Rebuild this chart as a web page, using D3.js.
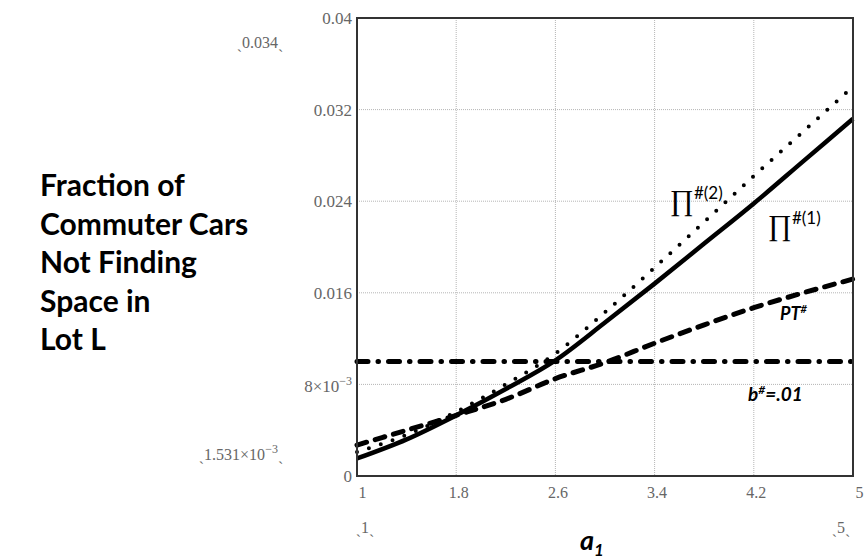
<!DOCTYPE html>
<html>
<head>
<meta charset="utf-8">
<script src="https://cdn.jsdelivr.net/npm/d3@7"></script>
<style>
  body { margin: 0; background: #fff; }
  svg { display: block; }
</style>
</head>
<body>
<svg id="chart" width="867" height="560"></svg>
<script>
// data
const a1 = [1, 1.4, 1.8, 2.2, 2.6, 3.0, 3.4, 3.8, 4.2, 4.6, 5];
const pi1 = [0.00153, 0.0032, 0.0053, 0.0076, 0.0101, 0.0134, 0.0168, 0.0203, 0.0238, 0.0275, 0.0312];
const pi2 = [0.0021, 0.0036, 0.0056, 0.0080, 0.0107, 0.0143, 0.0182, 0.0222, 0.0262, 0.0301, 0.0340];
const pt = [0.0027, 0.0040, 0.0053, 0.0067, 0.0085, 0.0099, 0.0116, 0.0132, 0.0147, 0.0160, 0.0172];
const bLevel = 0.01;
const xTicks = [1, 1.8, 2.6, 3.4, 4.2, 5];
const yTicks = [0, 0.008, 0.016, 0.024, 0.032, 0.04];
const titleLines = ["Fraction of", "Commuter Cars", "Not Finding", "Space in", "Lot L"];

const margin = { top: 18, right: 14, bottom: 84, left: 357 };
const width = 867 - margin.left - margin.right;
const height = 560 - margin.top - margin.bottom;

const svg = d3.select("#chart");
const g = svg.append("g").attr("transform", `translate(${margin.left}, ${margin.top})`);

const x = d3.scaleLinear().domain([1, 5]).range([0, width]);
const y = d3.scaleLinear().domain([0, 0.04]).range([height, 0]);

// grid
g.append("g").selectAll("line")
    .data(xTicks.slice(1, -1))
    .join("line")
    .attr("x1", d => x(d)).attr("x2", d => x(d))
    .attr("y1", 0).attr("y2", height)
    .attr("stroke", "#b5b5b5").attr("stroke-width", 1).attr("stroke-dasharray", "1,1");
g.append("g").selectAll("line")
    .data(yTicks.slice(1, -1))
    .join("line")
    .attr("x1", 0).attr("x2", width)
    .attr("y1", d => y(d)).attr("y2", d => y(d))
    .attr("stroke", "#b5b5b5").attr("stroke-width", 1).attr("stroke-dasharray", "1,1");

// axes labels
const tickColor = "#666";
const serif = "Liberation Serif, serif";
const xAxis = g.append("g").attr("transform", `translate(0, ${height})`)
    .call(d3.axisBottom(x).tickValues(xTicks).tickSize(0).tickPadding(11).tickFormat(d3.format("")));
xAxis.select(".domain").remove();
xAxis.selectAll("text")
    .attr("fill", tickColor)
    .attr("text-anchor", (d, i) => (i === 0 || i === xTicks.length - 1) ? "start" : "middle")
    .attr("dx", (d, i) => i === 0 ? 1 : 2)
    .style("font-family", serif).style("font-size", "16px");

const yAxis = g.append("g")
    .call(d3.axisLeft(y).tickValues(yTicks).tickSize(0).tickPadding(5)
        .tickFormat(d => d === 0.008 ? "" : (d === 0 ? "0" : d3.format("")(+d.toFixed(3)))));
yAxis.select(".domain").remove();
yAxis.selectAll("text")
    .attr("fill", tickColor)
    .style("font-family", serif).style("font-size", "17px");
// the 8x10^-3 label
const t8 = g.append("text")
    .attr("x", -5).attr("y", y(0.008)).attr("dy", "0.42em")
    .attr("text-anchor", "end").attr("fill", tickColor)
    .style("font-family", serif).style("font-size", "17px");
t8.append("tspan").text("8×10");
t8.append("tspan").attr("dy", "-0.55em").style("font-size", "12px").text("−3");

// curves
const line = d3.line().x((d, i) => x(a1[i])).y(d => y(d)).curve(d3.curveMonotoneX);

g.append("path").datum(pt).attr("d", line)
    .attr("fill", "none").attr("stroke", "#000").attr("stroke-width", 5)
    .attr("stroke-linecap", "round").attr("stroke-dasharray", "10,9");

g.append("path").datum(a1.map(() => bLevel)).attr("d", line)
    .attr("fill", "none").attr("stroke", "#000").attr("stroke-width", 5)
    .attr("stroke-linecap", "round").attr("stroke-dasharray", "11,10,0.5,10");

g.append("path").datum(pi2).attr("d", line)
    .attr("fill", "none").attr("stroke", "#000").attr("stroke-width", 4)
    .attr("stroke-linecap", "round").attr("stroke-dasharray", "0,12.5");

g.append("path").datum(pi1).attr("d", line)
    .attr("fill", "none").attr("stroke", "#000").attr("stroke-width", 4.5);

// frame
g.append("rect").attr("x", 0).attr("y", 0).attr("width", width).attr("height", height)
    .attr("fill", "none").attr("stroke", "#333").attr("stroke-width", 2);

// curve labels
function piLabel(px, py, sup) {
    const t = svg.append("text").attr("x", px).attr("y", py);
    t.append("tspan").style("font-family", serif).style("font-size", "29px").text("∏");
    t.append("tspan").attr("dy", "-11").style("font-family", "Lato, sans-serif").style("font-size", "17px").text(sup);
}
piLabel(670, 210, "#(2)");
piLabel(768, 235, "#(1)");

const ptLab = svg.append("text").attr("x", 780).attr("y", 320)
    .style("font-family", "Lato, sans-serif").style("font-weight", "bold").style("font-style", "italic").style("font-size", "18px");
ptLab.append("tspan").text("PT");
ptLab.append("tspan").attr("dy", "-7").style("font-size", "11px").text("#");

const bLab = svg.append("text").attr("x", 748).attr("y", 401)
    .style("font-family", "Lato, sans-serif").style("font-weight", "bold").style("font-style", "italic").style("font-size", "19px");
bLab.append("tspan").text("b");
bLab.append("tspan").attr("dy", "-7").style("font-size", "12px").text("#");
bLab.append("tspan").attr("dy", "7").text("=.01");

// range markers (Mathcad style)
const rangeStyle = s => s.attr("fill", tickColor)
    .style("font-family", serif).style("font-size", "16px");
svg.append("text").attr("x", 260).attr("y", 48).attr("text-anchor", "middle").text("ˏ0.034ˎ").call(rangeStyle);
const rmin = svg.append("text").attr("x", 241).attr("y", 460).attr("text-anchor", "middle").call(rangeStyle);
rmin.append("tspan").text("ˏ1.531×10");
rmin.append("tspan").attr("dy", "-7").style("font-size", "12px").text("−3");
rmin.append("tspan").attr("dy", "7").text("ˎ");
svg.append("text").attr("x", x(1) + margin.left + 8).attr("y", 533).attr("text-anchor", "middle").text("ˏ1ˎ").call(rangeStyle);
svg.append("text").attr("x", x(5) + margin.left - 12).attr("y", 533).attr("text-anchor", "middle").text("ˏ5ˎ").call(rangeStyle);

// axis titles
const xTitle = svg.append("text").attr("x", 580).attr("y", 550)
    .style("font-family", "Lato, sans-serif").style("font-weight", "bold").style("font-style", "italic").style("font-size", "27px");
xTitle.append("tspan").text("a");
xTitle.append("tspan").attr("dy", "6").style("font-size", "17px").text("1");

svg.append("g").selectAll("text")
    .data(titleLines)
    .join("text")
    .attr("x", 40)
    .attr("y", (d, i) => 196 + i * 38.5)
    .style("font-family", "Lato, sans-serif").style("font-weight", "bold").style("font-size", "30px")
    .text(d => d);
</script>
</body>
</html>
